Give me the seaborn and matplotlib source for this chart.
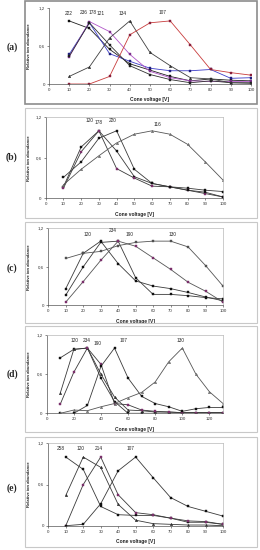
import seaborn as sns
import matplotlib
matplotlib.use("Agg")
import matplotlib.pyplot as plt
from matplotlib.patches import Rectangle

W, H = 260, 550

volts = [10, 20, 30, 40, 50, 60, 70, 80, 90, 100]
volts_d = [10, 20, 30, 40, 50, 60, 70, 80, 90, 100, 110, 120, 130]

# panel (a)
a_222 = [1.00, 0.88, 0.55, 0.32, 0.22, 0.12, 0.05, 0.08, 0.06, 0.05]
a_236 = [0.47, 0.97, 0.48, 0.36, 0.25, 0.21, 0.21, 0.23, 0.09, 0.10]
a_178 = [0.43, 0.99, 0.83, 0.47, 0.20, 0.10, 0.05, 0.04, 0.04, 0.04]
a_121 = [0.44, 0.97, 0.62, 0.29, 0.15, 0.07, 0.02, 0.05, 0.02, 0.02]
a_134 = [0.12, 0.27, 0.73, 1.00, 0.50, 0.29, 0.10, 0.08, 0.02, 0.01]
a_107 = [0.00, 0.00, 0.12, 0.78, 0.97, 1.00, 0.62, 0.23, 0.18, 0.14]

# panel (b)
b_120 = [0.17, 0.76, 1.00, 0.70, 0.32, 0.22, 0.17, 0.15, 0.12, 0.10]
b_178 = [0.15, 0.69, 1.00, 0.44, 0.30, 0.18, 0.17, 0.12, 0.07, 0.02]
b_220 = [0.31, 0.54, 0.89, 1.00, 0.43, 0.22, 0.17, 0.12, 0.09, 0.02]
b_116 = [0.20, 0.43, 0.63, 0.82, 0.95, 1.00, 0.95, 0.80, 0.54, 0.27]

# panel (c)
c_120 = [0.26, 0.81, 1.00, 0.65, 0.38, 0.30, 0.26, 0.20, 0.13, 0.07]
c_234 = [0.16, 0.60, 0.98, 1.00, 0.43, 0.17, 0.17, 0.15, 0.12, 0.10]
c_190 = [0.05, 0.37, 0.70, 1.00, 0.92, 0.74, 0.56, 0.36, 0.22, 0.05]
c_130 = [0.73, 0.81, 0.84, 0.93, 0.98, 1.00, 1.00, 0.91, 0.62, 0.30]

# panel (d)
d_120 = [0.85, 0.98, 1.00, 0.54, 0.18, 0.00, 0.00, 0.00, 0.00, 0.00, 0.00, 0.00, 0.00]
d_234 = [0.31, 0.98, 1.00, 0.60, 0.25, 0.05, 0.04, 0.02, 0.02, 0.01, 0.01, 0.01, 0.01]
d_190 = [0.14, 0.63, 1.00, 0.75, 0.15, 0.13, 0.05, 0.03, 0.02, 0.01, 0.01, 0.01, 0.01]
d_107 = [0.00, 0.00, 0.12, 0.72, 1.00, 0.54, 0.26, 0.15, 0.10, 0.03, 0.07, 0.09, 0.09]
d_130 = [0.00, 0.05, 0.04, 0.10, 0.15, 0.24, 0.32, 0.48, 0.79, 1.00, 0.60, 0.33, 0.15]

# panel (e)
e_258 = [1.00, 0.82, 0.28, 0.16, 0.15, 0.15, 0.11, 0.05, 0.05, 0.02]
e_120 = [0.44, 1.00, 0.85, 0.31, 0.08, 0.03, 0.02, 0.01, 0.01, 0.00]
e_214 = [0.00, 0.60, 1.00, 0.45, 0.19, 0.16, 0.11, 0.07, 0.06, 0.02]
e_107 = [0.00, 0.02, 0.32, 0.80, 1.00, 0.70, 0.41, 0.28, 0.21, 0.14]

# peak labels (x, y in data units)
label_pos = {
    'a': {'222': (9.6, 1.11), '236': (17, 1.13), '178': (21.5, 1.14), '121': (25.8, 1.11),
          '134': (36.5, 1.11), '107': (56, 1.14)},
    'b': {'120': (24.7, 1.15), '178': (30, 1.12), '220': (38, 1.15), '116': (63, 1.10)},
    'c': {'120': (22.5, 1.11), '234': (37, 1.16), '190': (46.5, 1.11), '130': (71, 1.11)},
    'd': {'120': (20.8, 1.11), '234': (29.8, 1.11), '190': (37.6, 1.07), '107': (57, 1.11),
          '130': (99, 1.11)},
    'e': {'258': (7.3, 1.12), '120': (18.5, 1.12), '214': (28.9, 1.12), '107': (47.2, 1.12)},
}

DARK = '#3a3a3a'
PURP = '#7a2f6a'

panels = [
    dict(key='a', x=volts, xmax=100, xticks=range(0, 101, 10),
         series=[('222', a_222, '#202020', 's', '#101010'),
                 ('236', a_236, '#3c3cc8', 's', '#202080'),
                 ('178', a_178, '#b055c8', 's', '#7a2f8a'),
                 ('121', a_121, '#303030', 's', '#202020'),
                 ('134', a_134, '#404040', '^', '#303030'),
                 ('107', a_107, '#c83c3c', 's', '#8a1f3a')],
         ax_px=(49, 251, 84, 8.3), frame=(25, 257, 1, 104.3), letter_y=47,
         frame_ec='#8c8c8c', frame_lw=1.2, box=False),
    dict(key='b', x=volts, xmax=100, xticks=range(0, 101, 10),
         series=[('120', b_120, DARK, 's', '#101010'),
                 ('178', b_178, DARK, 's', PURP),
                 ('220', b_220, DARK, 's', '#101010'),
                 ('116', b_116, '#555555', '^', '#707070')],
         ax_px=(45.7, 223, 198.3, 117.3), frame=(25, 257, 108, 218), letter_y=157,
         frame_ec='#c8c8c8', frame_lw=0.8, box=True),
    dict(key='c', x=volts, xmax=100, xticks=range(0, 101, 10),
         series=[('120', c_120, DARK, 's', '#101010'),
                 ('234', c_234, DARK, 's', '#101010'),
                 ('190', c_190, '#555555', 's', PURP),
                 ('130', c_130, '#555555', 's', '#505050')],
         ax_px=(48.3, 223, 305.3, 228.3), frame=(25, 257, 222, 323), letter_y=268,
         frame_ec='#c8c8c8', frame_lw=0.8, box=True),
    dict(key='d', x=volts_d, xmax=130, xticks=range(0, 121, 20),
         series=[('120', d_120, DARK, 's', '#101010'),
                 ('234', d_234, DARK, '^', '#303030'),
                 ('190', d_190, DARK, 's', PURP),
                 ('107', d_107, DARK, 's', '#101010'),
                 ('130', d_130, '#555555', '^', '#707070')],
         ax_px=(46.7, 223, 413.3, 335), frame=(25, 257, 326, 432), letter_y=374,
         frame_ec='#c8c8c8', frame_lw=0.8, box=True),
    dict(key='e', x=volts, xmax=100, xticks=range(0, 101, 10),
         series=[('258', e_258, DARK, 's', '#101010'),
                 ('120', e_120, DARK, '^', '#303030'),
                 ('214', e_214, DARK, 's', PURP),
                 ('107', e_107, DARK, 's', '#101010')],
         ax_px=(48.3, 223, 525.7, 443.3), frame=(25, 257, 437, 547), letter_y=488,
         frame_ec='#c8c8c8', frame_lw=0.8, box=True),
]

sns.set_style('white')
plt.rcParams['font.family'] = ['Liberation Sans', 'DejaVu Sans']

fig = plt.figure(figsize=(W / 100, H / 100), dpi=100)
fig.patch.set_facecolor('white')

for p in panels:
    x0, x1, yb, yt = p['ax_px']
    ax = fig.add_axes([x0 / W, 1 - yb / H, (x1 - x0) / W, (yb - yt) / H])

    fx0, fx1, fy0, fy1 = p['frame']
    fig.patches.append(Rectangle((fx0 / W, 1 - fy1 / H), (fx1 - fx0) / W, (fy1 - fy0) / H,
                                 transform=fig.transFigure, fill=False,
                                 ec=p['frame_ec'], lw=p['frame_lw'], zorder=0))

    for name, vals, lc, mk, mc in p['series']:
        sns.lineplot(x=p['x'], y=vals, ax=ax, color=lc, lw=0.6, marker=mk, ms=1.8,
                     markerfacecolor=mc, markeredgecolor=mc, markeredgewidth=0.3)

    for name, (tx, ty) in label_pos[p['key']].items():
        ax.text(tx, ty, name, fontsize=3.4, ha='center', va='center', color='#222222')

    ax.set_xlim(0, p['xmax'])
    ax.set_ylim(0, 1.2)
    ax.set_xticks(list(p['xticks']))
    ax.set_yticks([0, 0.6, 1.2])
    ax.set_yticklabels(['0', '0,6', '1,2'])
    ax.tick_params(labelsize=3.2, length=1.5, width=0.4, pad=1.5, colors='#333333',
                   direction='out', left=True, bottom=True)

    for side in ['left', 'bottom']:
        ax.spines[side].set_color('#555555')
        ax.spines[side].set_linewidth(0.5)
    for side in ['top', 'right']:
        ax.spines[side].set_visible(p['box'])
        ax.spines[side].set_color('#b8b8b8')
        ax.spines[side].set_linewidth(0.5)

    ax.set_xlabel('Cone voltage [V]', fontsize=3.5, fontweight='bold', color='#222222')
    ax.set_ylabel('Relative ion abundance', fontsize=3.0, fontweight='bold', color='#222222')
    ax.xaxis.set_label_coords(0.5, -(13.5) / (yb - yt))
    ax.yaxis.set_label_coords((31 - x0) / (x1 - x0), 0.5)

    fig.text(12 / W, 1 - p['letter_y'] / H, '(%s)' % p['key'], family='Liberation Serif',
             fontweight='bold', fontsize=7, ha='center', va='center')

plt.savefig('out.png', dpi=100)
plt.close()
